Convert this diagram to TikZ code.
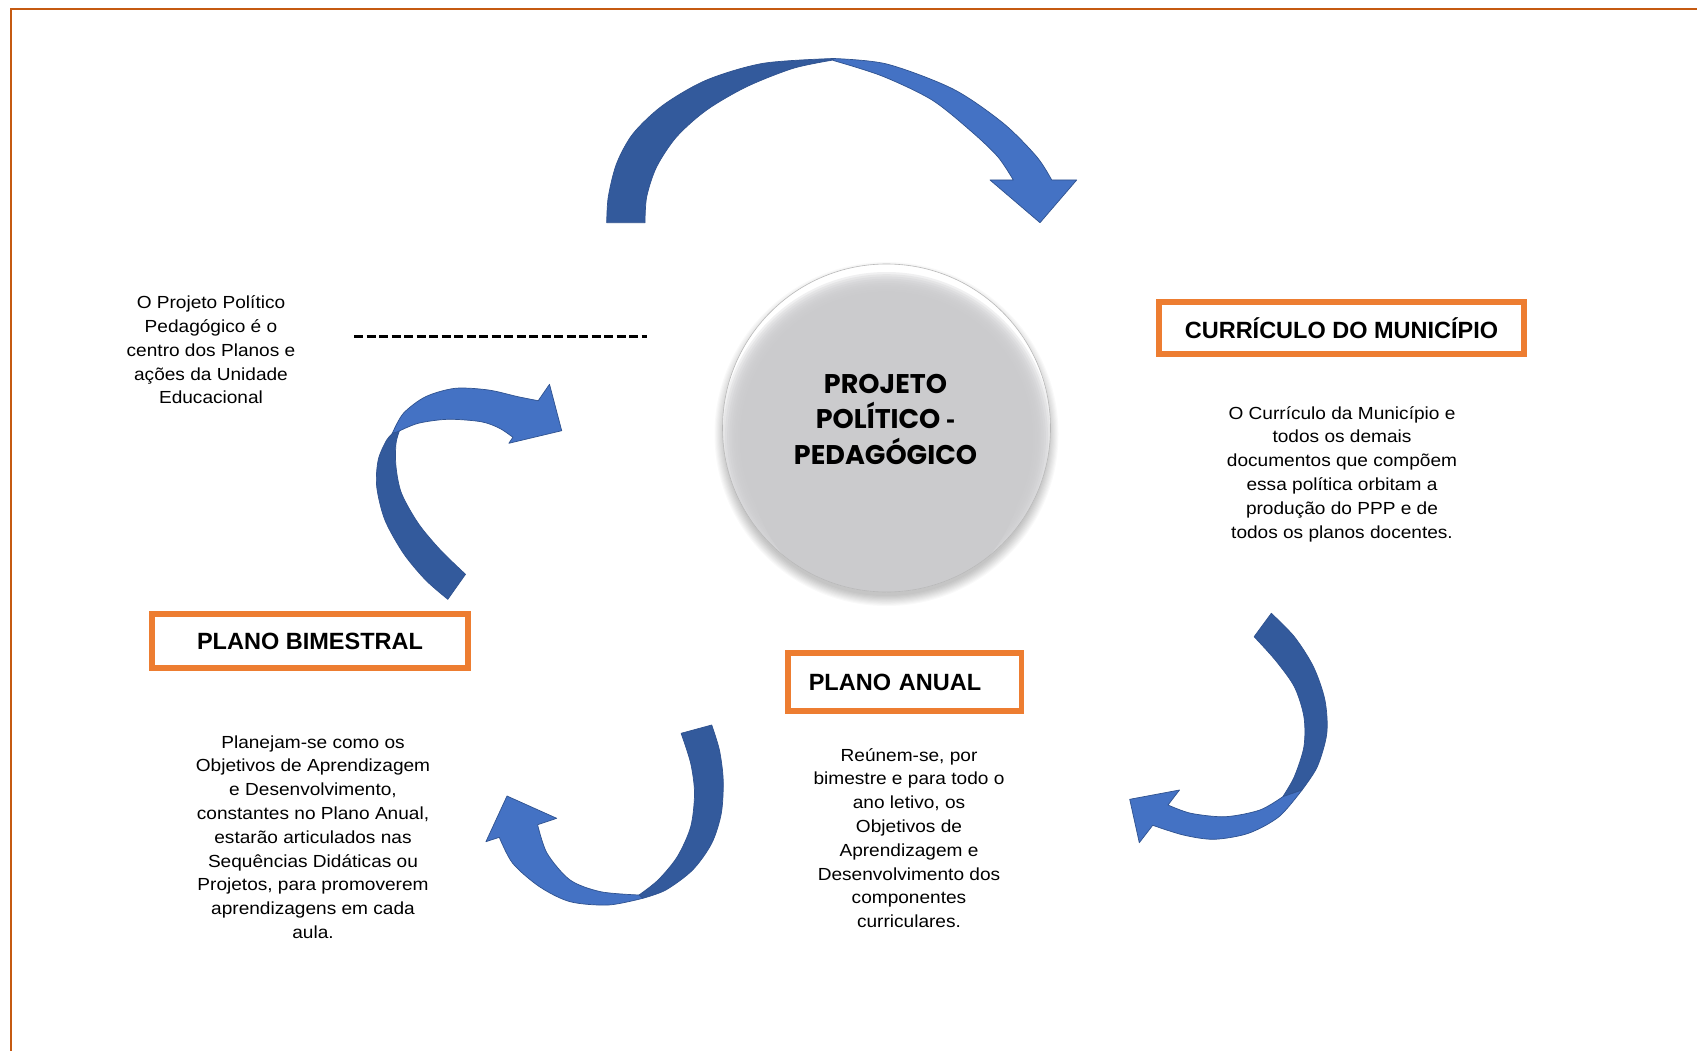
\documentclass[tikz,border=0pt]{standalone}
\usepackage{fontspec}
\usetikzlibrary{calc}
\setmainfont{Liberation Sans}
\newfontfamily\bodyf{Liberation Sans}[FakeStretch=1.09]
\newfontfamily\titlef{Liberation Sans}
\newfontfamily\circf{Poppins}
\definecolor{frameorange}{HTML}{C55A11}
\definecolor{boxorange}{HTML}{ED7D31}
\definecolor{arrdark}{HTML}{335A9C}
\definecolor{arrlight}{HTML}{4472C4}
\definecolor{arredge}{HTML}{2F528F}
\definecolor{discface}{HTML}{CBCBCD}
\tikzset{
  titlebox/.style={draw=boxorange, line width=5.5pt, inner sep=0pt, fill=white,
    font=\titlef\bfseries\fontsize{23.5}{28}\selectfont},
  bodytext/.style={align=center, inner sep=0pt, font=\bodyf\fontsize{17.5}{23.8}\selectfont},
  arrback/.style={fill=arrdark, draw=arredge, line width=0.7pt, line join=round},
  arrfront/.style={fill=arrlight, draw=arredge, line width=0.7pt, line join=round},
}
\begin{document}
\begin{tikzpicture}[x=1pt, y=-1pt]
\useasboundingbox (0,0) rectangle (1697,1051);
\fill[white] (0,0) rectangle (1697,1051);
% frame
\draw[frameorange, line width=2pt] (10.5,1051) -- (10.5,9) -- (1697,9);

% central disc
\coordinate (pc) at (886.5,428);
\foreach \i in {1,...,10} {
  \fill[black, opacity=0.022] ($(pc)+(0,6)$) circle ({161+\i*1.1});
}
\fill[white] (pc) circle (164);
\begin{scope}
  \clip (pc) circle (164);
  \foreach \k in {0,...,9} {
    \fill[discface, opacity=0.28] ($(pc)+(0,10)$) circle ({166-\k*2.2});
  }
  \fill[discface] ($(pc)+(0,10)$) circle (144);
  \fill[discface] ($(pc)+(0,40)$) circle (135);
\end{scope}
\draw[gray!55, line width=0.6pt] (pc) circle (164);
\node[circle, minimum size=328pt, inner sep=0pt, align=center,
  font=\circf\bfseries\fontsize{27}{35.5}\selectfont] (ppp) at ($(pc)+(-1,-9)$)
  {PROJETO\\POLÍTICO {\titlef\bfseries -}\\PEDAGÓGICO};

% title boxes
\node[titlebox, minimum width=365pt, minimum height=52pt] (curr) at (1341.5,328) {CURRÍCULO DO MUNICÍPIO};
\node[titlebox, minimum width=316pt, minimum height=54pt] (bim) at (310,641) {PLANO BIMESTRAL};
\node[titlebox, minimum width=233.5pt, minimum height=58pt, text width=192pt, align=left] (anual) at (904.8,682) {PLANO ANUAL};

% texts
\node[bodytext] (t1) at (211,350) {O Projeto Político\\Pedagógico é o\\centro dos Planos e\\ações da Unidade\\Educacional};
\node[bodytext] (t2) at (1342,474) {O Currículo da Município e\\todos os demais\\documentos que compõem\\essa política orbitam a\\produção do PPP e de\\todos os planos docentes.};
\node[bodytext] (t3) at (313,837) {Planejam-se como os\\Objetivos de Aprendizagem\\e Desenvolvimento,\\constantes no Plano Anual,\\estarão articulados nas\\Sequências Didáticas ou\\Projetos, para promoverem\\aprendizagens em cada\\aula.};
\node[bodytext] (t4) at (909,838) {Reúnem-se, por\\bimestre e para todo o\\ano letivo, os\\Objetivos de\\Aprendizagem e\\Desenvolvimento dos\\componentes\\curriculares.};

% dashed line
\coordinate (d1) at (354,336.5);
\coordinate (d2) at (647,336.5);
\draw[black, line width=2.3pt, dash pattern=on 9pt off 3.5pt] (d1) -- (d2);

% top curved arrow
\filldraw[arrback] plot[smooth] coordinates {(606.7,222.7) (608.3,196.7) (616.7,163.3) (633.3,133.3) (663.3,105) (706.7,80) (763.3,63.3) (833.3,58.5)}
  -- plot[smooth] coordinates {(833.3,60) (793.3,68.3) (746.7,86.7) (706.7,110) (676.7,136.7) (656.7,166.7) (646.7,196.7) (645,222.7)} -- cycle;
\filldraw[arrfront] plot[smooth] coordinates {(833.3,58.5) (886.7,64) (953,89) (1003,123) (1036.7,156.7) (1051.7,180)}
  -- (1076.7,180) -- (1040,222.7) -- (990,180) -- (1013.3,180)
  -- plot[smooth] coordinates {(1013.3,180) (998,157) (972,132) (932,100) (882,76) (833.3,60.5)} -- cycle;

% left curved arrow
\filldraw[arrback] plot[smooth] coordinates {(447.8,599.3) (425.6,580) (403.4,553.3) (384.9,520) (376.7,486.7) (378.2,460) (386.7,440) (396,430)}
  -- plot[smooth] coordinates {(399.7,430) (396,443.3) (396,466.7) (401.5,493.3) (418.2,523.3) (440.4,550) (465.5,574.3)} -- cycle;
\filldraw[arrfront] plot[smooth] coordinates {(392.3,433.3) (403.4,413.3) (425.6,396.7) (455.2,388.3) (488.5,390) (518,396.7) (538.2,400.7)}
  -- (549.5,384.3) -- (561.7,430.7) -- (508.8,443.3) -- (512.9,437.3)
  -- plot[smooth] coordinates {(512.9,437.3) (499.6,428.3) (481,421.7) (447.8,419.3) (418.2,423.3) (397.8,431.7)} -- cycle;

% bottom middle curved arrow
\filldraw[arrback] plot[smooth] coordinates {(711.7,725) (719.4,750) (723.2,780) (721.3,813.3) (711.7,843.3) (692.6,870) (665.8,890) (642.8,898.3)}
  -- plot[smooth] coordinates {(639,895) (658.1,880) (677.3,856.7) (690.7,826.7) (694.5,793.3) (690.7,763.3) (681.1,733.3)} -- cycle;
\filldraw[arrfront] plot[smooth] coordinates {(642.8,898.3) (608.4,905) (570.1,901.7) (539.5,886.7) (512.7,863.3) (499.3,837.3)}
  -- (485.9,841.7) -- (507,796) -- (556.7,818.3) -- (537.6,824.7)
  -- plot[smooth] coordinates {(537.6,824.7) (547.1,853.3) (570.1,880) (600.7,891.7) (639,895)} -- cycle;

% bottom right curved arrow
\filldraw[arrback] plot[smooth] coordinates {(1271.3,613.3) (1294.3,636.7) (1313.4,666.7) (1324.9,700) (1326.8,733.3) (1317.3,766.7) (1302,790)}
  -- plot[smooth] coordinates {(1282.8,796.7) (1294.3,776.7) (1303.9,746.7) (1303.9,716.7) (1294.3,686.7) (1275.2,660) (1254.1,636.7)} -- cycle;
\filldraw[arrfront] plot[smooth] coordinates {(1302,790) (1279,816.7) (1248.4,833.3) (1213.9,839.3) (1183.3,835) (1152.7,825.3)}
  -- (1139.3,842.7) -- (1129.7,799.3) -- (1179.5,790) -- (1168,805)
  -- plot[smooth] coordinates {(1168,805) (1191,813.3) (1225.4,816.7) (1259.9,810) (1282.8,796.7)} -- cycle;
\end{tikzpicture}
\end{document}
